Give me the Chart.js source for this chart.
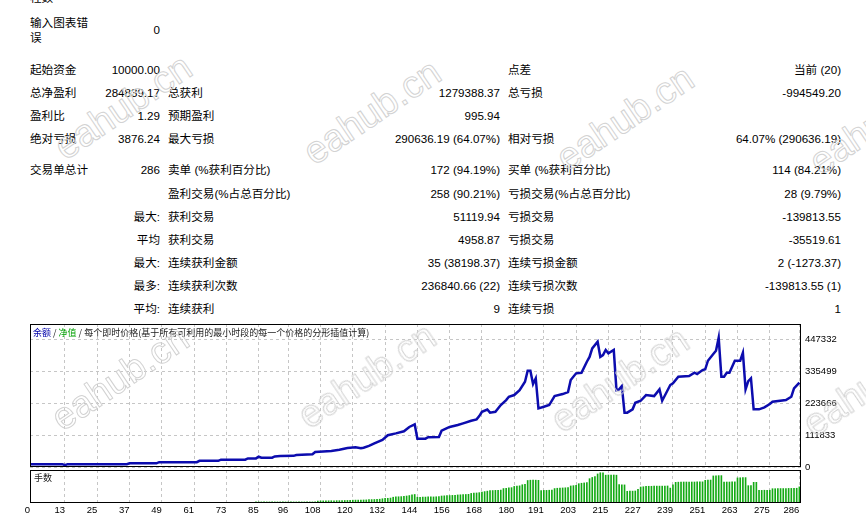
<!DOCTYPE html>
<html lang="zh-CN">
<head>
<meta charset="utf-8">
<title>策略测试报告</title>
<script src="https://cdn.jsdelivr.net/npm/chart.js@4.4.1/dist/chart.umd.min.js"></script>
<style>
  html, body { margin: 0; padding: 0; background: #fff; }
  body {
    width: 866px; height: 516px; position: relative; overflow: hidden;
    font-family: "Liberation Sans", "Noto Sans CJK SC", sans-serif;
    font-size: 11.6px; color: #000;
  }
  .cell { position: absolute; line-height: 16px; white-space: nowrap; }
  #main { position: absolute; left: 0; top: 320px; }
  #vol { position: absolute; left: 0; top: 466px; }
  .legend {
    position: absolute; left: 33px; top: 327px; white-space: nowrap;
    font: 9px/11px "Noto Sans CJK SC", sans-serif; color: #202020;
  }
  .legend .bal { color: #0000a8; }
  .legend .eq { color: #00a000; }
  .lots {
    position: absolute; left: 34px; top: 472px;
    font: 9px/11px "Noto Sans CJK SC", sans-serif; color: #202020;
  }
  .wm {
    position: absolute; z-index: 5; pointer-events: none; white-space: nowrap;
    font: 38px "Liberation Sans", sans-serif; color: transparent;
    -webkit-text-stroke: 1px #d2d2d2;
    transform: translate(-50%, -50%) rotate(-34deg);
  }
</style>
</head>
<body>
<div id="stats"></div>
<canvas id="main" width="866" height="156"></canvas>
<canvas id="vol" width="866" height="50"></canvas>
<div class="legend"><span class="bal">余额</span> / <span class="eq">净值</span> / 每个即时价格(基于所有可利用的最小时段的每一个价格的分形插值计算)</div>
<div class="lots">手数</div>
<div id="marks"></div>
<script>
// balance curve vertices (trade number, balance)
const balanceTrade = [
  0, 12, 13, 14, 36, 37, 47, 48, 62, 63, 70, 71, 80, 81, 84, 85, 86, 90, 91, 93,
  98, 99, 105, 106, 112, 115, 118, 121, 123, 124, 126, 128, 131, 133, 136, 139, 141, 143, 144, 147,
  148, 152, 153, 155, 156, 159, 161, 164, 166, 167, 168, 170, 171, 173, 175, 177, 178, 180, 182, 184,
  185, 186, 187, 188, 189, 191, 193, 195, 198, 200, 201, 203, 205, 207, 208, 209, 211, 212, 213, 214,
  215, 217, 218, 219, 220, 221, 222, 224, 225, 227, 229, 232, 234, 235, 238, 239, 241, 245, 247, 248,
  250, 251, 252, 254, 255, 256, 257, 258, 259, 260, 262, 264, 265, 266, 267, 268, 269, 271, 273, 275,
  276, 281, 283, 284, 286
]
const balanceValue = [
  10000, 10000, 6124, 10000, 10000, 13000, 13000, 17000, 17000, 21500, 21500, 25500, 25500, 30000, 30000, 36000, 32500, 32500, 37000, 38500,
  39000, 42000, 44500, 52500, 56000, 60000, 66500, 69000, 65400, 67500, 74000, 82800, 95000, 111000, 117500, 125000, 140000, 149000, 98500, 99000,
  104000, 105000, 127000, 136000, 140000, 146800, 152700, 161800, 166600, 178000, 193000, 201000, 190000, 193000, 216700, 234000, 245700, 251600, 269000, 298000,
  336500, 336500, 290000, 310000, 205000, 210700, 216700, 248000, 255000, 262000, 304000, 327500, 329500, 368000, 385000, 414800, 438000, 385000, 391400, 409000,
  397300, 409000, 269000, 271500, 283000, 190000, 190000, 201600, 224700, 231700, 251600, 248000, 271500, 231700, 286600, 292500, 315600, 318000, 329600, 325000,
  339000, 341500, 371500, 395000, 406500, 452000, 315600, 315600, 329600, 329600, 371500, 371500, 399500, 271500, 300000, 310000, 201600, 201600, 208600, 220200,
  228000, 234000, 245700, 275000, 294839
]

// lots per trade, 0..286
const lots = [
  0.02, 0.02, 0.02, 0.02, 0.02, 0.02, 0.02, 0.02, 0.02, 0.02,
  0.02, 0.02, 0.02, 0.02, 0.02, 0.02, 0.02, 0.02, 0.02, 0.02,
  0.02, 0.02, 0.02, 0.02, 0.02, 0.02, 0.02, 0.02, 0.02, 0.02,
  0.02, 0.02, 0.02, 0.02, 0.02, 0.02, 0.02, 0.03, 0.03, 0.03,
  0.03, 0.03, 0.03, 0.03, 0.03, 0.03, 0.03, 0.03, 0.03, 0.03,
  0.03, 0.03, 0.03, 0.03, 0.03, 0.03, 0.03, 0.03, 0.03, 0.03,
  0.03, 0.03, 0.03, 0.04, 0.04, 0.04, 0.04, 0.04, 0.04, 0.04,
  0.04, 0.04, 0.04, 0.04, 0.04, 0.04, 0.04, 0.04, 0.04, 0.04,
  0.04, 0.04, 0.04, 0.04, 0.14, 0.14, 0.14, 0.14, 0.14, 0.14,
  0.14, 0.14, 0.14, 0.14, 0.14, 0.14, 0.14, 0.14, 0.14, 0.14,
  0.14, 0.14, 0.14, 0.14, 0.14, 0.14, 0.14, 0.26, 0.27, 0.28,
  0.28, 0.29, 0.30, 0.30, 0.31, 0.31, 0.32, 0.33, 0.34, 0.36,
  0.37, 0.38, 0.38, 0.39, 0.40, 0.41, 0.44, 0.45, 0.46, 0.48,
  0.50, 0.56, 0.60, 0.62, 0.65, 0.76, 0.80, 0.82, 0.84, 0.88,
  0.92, 0.98, 1.08, 1.12, 0.76, 0.76, 0.78, 0.78, 0.80, 0.80,
  0.80, 0.82, 0.84, 0.92, 0.94, 0.96, 0.98, 1.00, 1.02, 1.06,
  1.08, 1.10, 1.12, 1.14, 1.26, 1.30, 1.32, 1.36, 1.42, 1.50,
  1.56, 1.62, 1.64, 1.66, 1.68, 1.70, 1.90, 1.94, 1.98, 2.02,
  2.18, 2.22, 2.26, 2.40, 2.46, 2.96, 3.00, 3.00, 3.00, 2.98,
  1.64, 1.66, 1.66, 1.68, 1.70, 1.90, 1.94, 1.96, 1.98, 2.00,
  2.04, 2.24, 2.28, 2.32, 2.54, 2.60, 2.64, 2.70, 3.20, 3.36,
  3.48, 3.82, 3.98, 3.96, 3.66, 3.68, 3.68, 3.68, 3.66, 2.42,
  2.40, 2.38, 1.54, 1.56, 1.56, 1.58, 1.80, 2.10, 2.14, 2.18,
  2.20, 2.20, 2.22, 2.22, 2.22, 2.22, 2.24, 2.24, 1.96, 2.40,
  2.72, 2.74, 2.74, 2.76, 2.76, 2.76, 2.76, 2.76, 2.78, 2.78,
  2.78, 2.98, 3.00, 3.02, 3.56, 3.58, 3.60, 3.60, 2.74, 2.76,
  2.76, 2.78, 2.78, 3.30, 3.32, 3.34, 3.34, 2.28, 2.30, 2.72,
  2.72, 1.66, 1.66, 1.68, 1.68, 1.68, 1.88, 1.88, 1.90, 1.90,
  1.90, 1.90, 1.92, 1.92, 1.92, 1.94, 2.12
]

const xTicks = [0, 13, 25, 37, 49, 61, 73, 85, 96, 108, 120, 132, 144, 156, 168, 180, 191, 203, 215, 227, 239, 251, 263, 275, 286]
const yTicks = [0, 111833, 223666, 335499, 447332]
const xMax = 286.6
const yMax = 500000
const lotsMax = 4.34

// report rows: y centre, then [text, x, align]
const rows = [
  [-2, ['柱数', 30, 'l']],
  [23, ['输入图表错', 30, 'l']],
  [38, ['误', 30, 'l']],
  [30, ['0', 160, 'r']],
  [70, ['起始资金', 30, 'l'], ['10000.00', 160, 'r'], ['点差', 508, 'l'], ['当前 (20)', 841, 'r']],
  [93, ['总净盈利', 30, 'l'], ['284839.17', 160, 'r'], ['总获利', 168, 'l'], ['1279388.37', 500, 'r'], ['总亏损', 508, 'l'], ['-994549.20', 841, 'r']],
  [116, ['盈利比', 30, 'l'], ['1.29', 160, 'r'], ['预期盈利', 168, 'l'], ['995.94', 500, 'r']],
  [139, ['绝对亏损', 30, 'l'], ['3876.24', 160, 'r'], ['最大亏损', 168, 'l'], ['290636.19 (64.07%)', 500, 'r'], ['相对亏损', 508, 'l'], ['64.07% (290636.19)', 841, 'r']],
  [170, ['交易单总计', 30, 'l'], ['286', 160, 'r'], ['卖单 (%获利百分比)', 168, 'l'], ['172 (94.19%)', 500, 'r'], ['买单 (%获利百分比)', 508, 'l'], ['114 (84.21%)', 841, 'r']],
  [194, ['盈利交易(%占总百分比)', 168, 'l'], ['258 (90.21%)', 500, 'r'], ['亏损交易(%占总百分比)', 508, 'l'], ['28 (9.79%)', 841, 'r']],
  [217, ['最大:', 160, 'r'], ['获利交易', 168, 'l'], ['51119.94', 500, 'r'], ['亏损交易', 508, 'l'], ['-139813.55', 841, 'r']],
  [240, ['平均', 160, 'r'], ['获利交易', 168, 'l'], ['4958.87', 500, 'r'], ['亏损交易', 508, 'l'], ['-35519.61', 841, 'r']],
  [263, ['最大:', 160, 'r'], ['连续获利金额', 168, 'l'], ['35 (38198.37)', 500, 'r'], ['连续亏损金额', 508, 'l'], ['2 (-1273.37)', 841, 'r']],
  [286, ['最多:', 160, 'r'], ['连续获利次数', 168, 'l'], ['236840.66 (22)', 500, 'r'], ['连续亏损次数', 508, 'l'], ['-139813.55 (1)', 841, 'r']],
  [309, ['平均:', 160, 'r'], ['连续获利', 168, 'l'], ['9', 500, 'r'], ['连续亏损', 508, 'l'], ['1', 841, 'r']]
]

const marks = [[123, 107], [372, 112], [625, 118], [878, 122], [120, 378], [367, 376], [620, 380], [872, 384]]

function buildStats() {
  const box = document.getElementById('stats')
  rows.forEach(([y, ...cells]) => {
    cells.forEach(([text, x, align]) => {
      const el = document.createElement('div')
      el.className = 'cell'
      el.textContent = text
      el.style.top = (y - 8) + 'px'
      if (align === 'r') el.style.right = (866 - x) + 'px'
      else el.style.left = x + 'px'
      box.appendChild(el)
    })
  })
  const wm = document.getElementById('marks')
  marks.forEach(([x, y]) => {
    const el = document.createElement('div')
    el.className = 'wm'
    el.textContent = 'eahub.cn'
    el.style.left = x + 'px'
    el.style.top = y + 'px'
    wm.appendChild(el)
  })
}

// black frame around each panel
const framePlugin = {
  id: 'frame',
  afterDraw(chart) {
    const { ctx, chartArea: a } = chart
    ctx.save()
    ctx.strokeStyle = '#000'
    ctx.lineWidth = 1
    ctx.strokeRect(Math.round(a.left) + 0.5, Math.round(a.top) + 0.5, Math.round(a.width) - 1, Math.round(a.height) - 1)
    ctx.restore()
  }
}

const gridColor = '#c6c6c6'

// keep the plot areas exactly where the padding puts them
function noEdgePadding(s) {
  s.paddingTop = 0
  s.paddingBottom = 0
  s.paddingLeft = 0
  s.paddingRight = 0
}

function createBalanceChart() {
  return new Chart(document.getElementById('main'), {
    type: 'line',
    data: {
      datasets: [{
        label: '余额',
        data: balanceTrade.map((t, k) => ({ x: t, y: balanceValue[k] })),
        borderColor: '#0c0cae',
        borderWidth: 2.5,
        pointRadius: 0,
        tension: 0,
        fill: false
      }]
    },
    options: {
      responsive: false,
      animation: false,
      layout: { padding: { left: 30, top: 4, right: 0, bottom: 9 } },
      plugins: { legend: { display: false }, tooltip: { enabled: false } },
      scales: {
        x: {
          type: 'linear',
          min: 0,
          max: xMax,
          afterBuildTicks: s => { s.ticks = xTicks.slice(1).map(v => ({ value: v })) },
          afterFit: s => { s.height = 0; noEdgePadding(s) },
          ticks: { display: false },
          grid: { color: gridColor, drawTicks: false },
          border: { display: false, dash: [3, 3] }
        },
        y: {
          position: 'right',
          min: 0,
          max: yMax,
          afterBuildTicks: s => { s.ticks = yTicks.map(v => ({ value: v })) },
          afterFit: s => { s.width = 65; noEdgePadding(s) },
          ticks: { color: '#000', font: { size: 9.5 }, padding: 4, callback: v => String(v) },
          grid: { color: gridColor, drawTicks: false },
          border: { display: false, dash: [3, 3] }
        }
      }
    },
    plugins: [framePlugin]
  })
}

function createLotsChart() {
  return new Chart(document.getElementById('vol'), {
    type: 'bar',
    data: {
      datasets: [{
        label: '手数',
        data: lots.map((v, i) => ({ x: i, y: v })),
        backgroundColor: '#14aa14',
        borderWidth: 0,
        barThickness: 1
      }]
    },
    options: {
      responsive: false,
      animation: false,
      layout: { padding: { left: 30, top: 4, right: 0, bottom: 0 } },
      plugins: { legend: { display: false }, tooltip: { enabled: false } },
      scales: {
        x: {
          type: 'linear',
          offset: false,
          min: 0,
          max: xMax,
          afterBuildTicks: s => { s.ticks = xTicks.map(v => ({ value: v })) },
          afterFit: s => { s.height = 13; noEdgePadding(s) },
          ticks: { color: '#000', font: { size: 9.5 }, padding: 2, align: 'end', autoSkip: false, maxRotation: 0, callback: v => String(v) },
          grid: { offset: false, color: gridColor, drawTicks: false },
          border: { display: false, dash: [3, 3] }
        },
        y: {
          position: 'right',
          min: 0,
          max: lotsMax,
          afterFit: s => { s.width = 65; noEdgePadding(s) },
          ticks: { display: false },
          grid: { display: false },
          border: { display: false }
        }
      }
    },
    plugins: [framePlugin]
  })
}

buildStats()
createBalanceChart()
createLotsChart()
</script>
</body>
</html>
